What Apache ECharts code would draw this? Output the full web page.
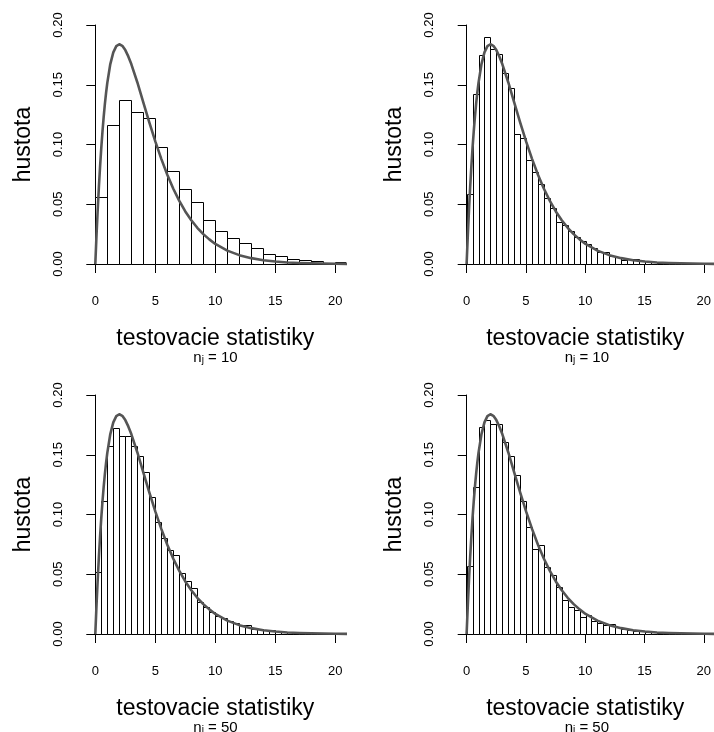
<!DOCTYPE html>
<html>
<head>
<meta charset="utf-8">
<script src="https://cdn.jsdelivr.net/npm/echarts@6/dist/echarts.min.js"></script>
<style>
  html, body { margin: 0; padding: 0; background: #ffffff; }
  #chart { width: 714px; height: 732px; }
</style>
</head>
<body>
<div id="chart"></div>
<script>
// Histogram bin heights (densities), one array per panel, bins start at 0
const binWidths = [1, 0.5, 0.5, 0.5];
const densA = [0.0564, 0.1159, 0.1374, 0.1268, 0.1221, 0.0980, 0.0782, 0.0628, 0.0522, 0.0370,
  0.0275, 0.0220, 0.0177, 0.0137, 0.0085, 0.0071, 0.0044, 0.0034, 0.0027, 0.0012, 0.0017];
const densB = [0.0589, 0.1419, 0.1746, 0.1897, 0.1802, 0.1757, 0.1598, 0.1475, 0.1087, 0.1053,
  0.0872, 0.0768, 0.0670, 0.0553, 0.0472, 0.0352, 0.0330, 0.0275, 0.0225, 0.0195,
  0.0165, 0.0130, 0.0100, 0.0098, 0.0070, 0.0058, 0.0035, 0.0040, 0.0040, 0.0028,
  0.0022, 0.0017, 0.0012, 0.0010, 0.0008, 0.0006, 0.0005, 0.0004, 0.0003, 0.0003, 0.0002, 0.0002];
const densC = [0.0517, 0.1109, 0.1573, 0.1721, 0.1659, 0.1659, 0.1573, 0.1489, 0.1358, 0.1145,
  0.0936, 0.0807, 0.0701, 0.0665, 0.0508, 0.0441, 0.0383, 0.0270, 0.0225, 0.0188,
  0.0148, 0.0135, 0.0110, 0.0095, 0.0075, 0.0072, 0.0045, 0.0038, 0.0030, 0.0032,
  0.0026, 0.0020, 0.0020, 0.0014, 0.0010, 0.0008, 0.0006, 0.0005, 0.0004, 0.0003, 0.0002, 0.0002];
const densD = [0.0567, 0.1229, 0.1732, 0.1791, 0.1760, 0.1760, 0.1606, 0.1492, 0.1327, 0.1109,
  0.0899, 0.0715, 0.0746, 0.0564, 0.0492, 0.0391, 0.0282, 0.0225, 0.0198, 0.0142,
  0.0155, 0.0112, 0.0092, 0.0078, 0.0084, 0.0056, 0.0040, 0.0034, 0.0028, 0.0025,
  0.0020, 0.0015, 0.0012, 0.0010, 0.0008, 0.0006, 0.0005, 0.0004, 0.0003, 0.0002, 0.0002, 0.0001];

// Reference density curve, sampled points
const curveX = [0, 0.1, 0.2, 0.3, 0.4, 0.5, 0.6, 0.7, 0.8, 0.9, 1, 1.25, 1.5, 1.75, 2, 2.25, 2.5, 2.75,
  3, 3.5, 4, 4.5, 5, 5.5, 6, 6.5, 7, 7.5, 8, 8.5, 9, 9.5, 10, 11, 12, 13, 14, 15, 16, 17, 18, 19, 20, 21];
const curveY = [0, 0.0238, 0.0452, 0.0646, 0.0819, 0.0974, 0.1111, 0.1233, 0.1341, 0.1435, 0.1516,
  0.1673, 0.1771, 0.1823, 0.1839, 0.1826, 0.1790, 0.1737,
  0.1673, 0.1521, 0.1353, 0.1186, 0.1026, 0.0880, 0.0747, 0.0630, 0.0528, 0.0440, 0.0366, 0.0303,
  0.0250, 0.0206, 0.0168, 0.0112, 0.0074, 0.0049, 0.0032, 0.0021, 0.0013, 0.0009,
  0.0006, 0.0004, 0.0002, 0.0001];

// Axis ticks and texts
const xTicks = [0, 5, 10, 15, 20];
const xTickLabels = ['0', '5', '10', '15', '20'];
const yTicks = [0, 0.05, 0.10, 0.15, 0.20];
const yTickLabels = ['0.00', '0.05', '0.10', '0.15', '0.20'];
const xTitle = 'testovacie statistiky';
const yTitle = 'hustota';
const subs = [['j', '10'], ['j', '10'], ['i', '50'], ['i', '50']];

const panels = [densA, densB, densC, densD];

// Layout: pixel of value 0 on each column / row, scale in px per unit
const colX0 = [95.3, 466.7];
const rowY0 = [264, 634];
const pxX = 12, pxY = 1195;
const padX = 0.8, padY = 0.008;   // 4% range extension around [0,20] and [0,0.2]

const FONT = '"Liberation Sans", Arial, Helvetica, sans-serif';

const grids = [], xAxes = [], yAxes = [], series = [], graphics = [];

panels.forEach((dens, p) => {
  const r = Math.floor(p / 2), c = p % 2;
  const x0 = colX0[c], y0 = rowY0[r];
  const dataGrid = grids.length;
  // plot region (data)
  grids.push({
    left: x0 - padX * pxX, top: y0 - (0.2 + padY) * pxY,
    width: (20 + 2 * padX) * pxX, height: (0.2 + 2 * padY) * pxY
  });
  xAxes.push({ gridIndex: dataGrid, type: 'value', min: -padX, max: 20 + padX, show: false });
  yAxes.push({ gridIndex: dataGrid, type: 'value', min: -padY, max: 0.2 + padY, show: false });

  // axis frame spanning the tick range only
  const axisGrid = grids.length;
  grids.push({ left: x0, top: y0 - 0.2 * pxY, width: 20 * pxX, height: 0.2 * pxY });
  xAxes.push({
    gridIndex: axisGrid, type: 'value', min: 0, max: 20, interval: 5,
    offset: padX * pxX,
    axisLine: { show: true, lineStyle: { color: '#000', width: 1 } },
    axisTick: { show: true, length: 9, lineStyle: { color: '#000' } },
    splitLine: { show: false },
    axisLabel: {
      margin: 21, fontSize: 13, color: '#000', fontFamily: FONT,
      formatter: v => xTickLabels[xTicks.indexOf(v)]
    },
    name: xTitle, nameLocation: 'middle', nameGap: 54,
    nameTextStyle: { fontSize: 23, color: '#000', fontFamily: FONT }
  });
  yAxes.push({
    gridIndex: axisGrid, type: 'value', min: 0, max: 0.2, interval: 0.05,
    offset: padY * pxY,
    axisLine: { show: true, lineStyle: { color: '#000', width: 1 } },
    axisTick: { show: true, length: 9, lineStyle: { color: '#000' } },
    splitLine: { show: false },
    axisLabel: {
      margin: 21, fontSize: 13, color: '#000', fontFamily: FONT, rotate: 90,
      formatter: v => yTickLabels[yTicks.findIndex(t => Math.abs(t - v) < 1e-9)]
    },
    name: yTitle, nameLocation: 'middle', nameGap: 51,
    nameTextStyle: { fontSize: 23, color: '#000', fontFamily: FONT }
  });

  // histogram bars
  const bw = binWidths[p];
  const bars = dens.map((d, i) => [i * bw, (i + 1) * bw, d]);
  series.push({
    type: 'custom', xAxisIndex: dataGrid, yAxisIndex: dataGrid, clip: true,
    data: bars,
    renderItem: (params, api) => {
      const a = api.coord([api.value(0), 0]);
      const b = api.coord([api.value(1), api.value(2)]);
      const xl = Math.round(a[0]) + 0.5, xr = Math.round(b[0]) + 0.5;
      const yb = Math.round(a[1]) + 0.5, yt = Math.round(b[1]) + 0.5;
      return {
        type: 'rect',
        shape: { x: xl, y: yt, width: xr - xl, height: yb - yt },
        style: { fill: '#ffffff', stroke: '#000000', lineWidth: 1 }
      };
    }
  });

  // density curve
  series.push({
    type: 'line', xAxisIndex: dataGrid, yAxisIndex: dataGrid,
    data: curveX.map((x, i) => [x, curveY[i]]),
    showSymbol: false, smooth: false, clip: true,
    lineStyle: { color: '#555555', width: 2.6, join: 'round' },
    z: 3
  });

  // sample size note under the axis title
  graphics.push({
    type: 'text',
    left: x0 + 10 * pxX - 22, top: y0 + 82,
    style: {
      text: '{n|n}{s|' + subs[p][0] + '}{n| = ' + subs[p][1] + '}',
      fontFamily: FONT,
      rich: {
        n: { fontSize: 15, fill: '#000', lineHeight: 15, fontFamily: FONT },
        s: { fontSize: 10, fill: '#000', lineHeight: 10, padding: [9, 0, 0, 0],
             verticalAlign: 'bottom', fontFamily: FONT }
      }
    }
  });
});

const chart = echarts.init(document.getElementById('chart'), null, { renderer: 'canvas' });
chart.setOption({
  backgroundColor: '#ffffff',
  animation: false,
  grid: grids,
  xAxis: xAxes,
  yAxis: yAxes,
  series: series,
  graphic: graphics
});
</script>
</body>
</html>
